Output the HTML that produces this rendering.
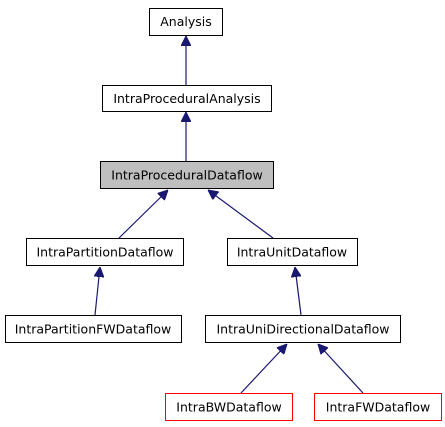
<!DOCTYPE html>
<html><head><style>
html,body{margin:0;padding:0;background:#fff;}
</style></head><body>
<svg width="445" height="427" xmlns="http://www.w3.org/2000/svg" style="display:block">
<defs>
<marker id="a" viewBox="0 0 10 10" refX="10" refY="5" markerWidth="10" markerHeight="10" markerUnits="userSpaceOnUse" orient="auto">
<path d="M0,0 L10,5 L0,10 z" fill="#191970" stroke="#191970"/>
</marker>
</defs>
<g stroke="#191970" stroke-width="1.2" fill="none" marker-end="url(#a)">
<line x1="186" y1="85" x2="186" y2="36"/>
<line x1="186" y1="161" x2="186" y2="112"/>
<line x1="119" y1="238" x2="168" y2="190"/>
<line x1="273" y1="238" x2="208" y2="190"/>
<line x1="95" y1="315" x2="100" y2="267"/>
<line x1="301" y1="315" x2="295" y2="267"/>
<line x1="241" y1="393" x2="287" y2="344"/>
<line x1="363" y1="393" x2="318" y2="344"/>
</g>
<g font-family="DejaVu Sans, Liberation Sans, sans-serif" font-size="12.5" text-anchor="middle">
<rect x="149.5" y="8.5" width="73" height="27" fill="#fff" stroke="#000"/>
<text x="186" y="26">Analysis</text>
<rect x="102.5" y="85.5" width="169" height="26" fill="#fff" stroke="#000"/>
<text x="187" y="103">IntraProceduralAnalysis</text>
<rect x="100.5" y="161.5" width="173" height="27" fill="#bfbfbf" stroke="#000"/>
<text x="187" y="179.5">IntraProceduralDataflow</text>
<rect x="26.5" y="238.5" width="157" height="27" fill="#fff" stroke="#000"/>
<text x="105" y="256.5">IntraPartitionDataflow</text>
<rect x="227.5" y="238.5" width="130" height="27" fill="#fff" stroke="#000"/>
<text x="292" y="256.5">IntraUnitDataflow</text>
<rect x="5.5" y="315.5" width="176" height="27" fill="#fff" stroke="#000"/>
<text x="93" y="333.5">IntraPartitionFWDataflow</text>
<rect x="205.5" y="315.5" width="195" height="27" fill="#fff" stroke="#000"/>
<text x="303" y="333.5">IntraUniDirectionalDataflow</text>
<rect x="165.5" y="393.5" width="127" height="27" fill="#fff" stroke="#f00"/>
<text x="229" y="411.5">IntraBWDataflow</text>
<rect x="314.5" y="393.5" width="127" height="27" fill="#fff" stroke="#f00"/>
<text x="378" y="411.5">IntraFWDataflow</text>
</g>
</svg>
</body></html>
